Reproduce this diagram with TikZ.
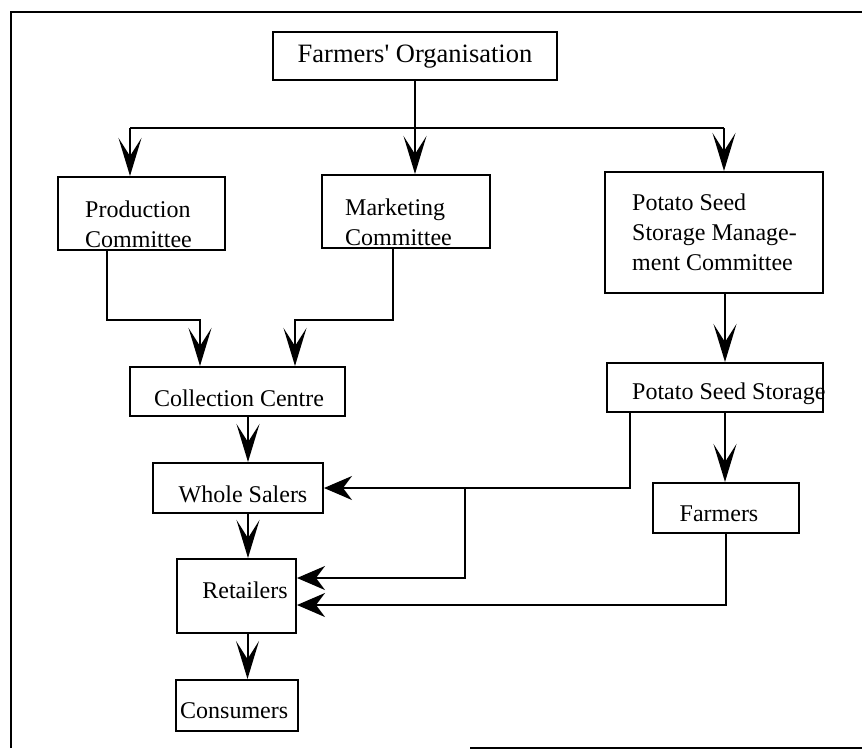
\documentclass[tikz,border=0pt]{standalone}
\usepackage{fontspec}
\setmainfont{Liberation Serif}
\usetikzlibrary{arrows.meta}
\tikzset{
  line/.style={draw=black, line width=2pt},
  box/.style={draw=black, line width=2pt, rectangle, inner sep=0pt},
  txt/.style={inner sep=0pt, font=\fontsize{24}{30}\selectfont, align=left},
  arr/.style={line, -{Stealth[length=38pt,width=23pt,inset=18pt]}},
  harr/.style={line, -{Stealth[length=28pt,width=24pt,inset=9pt]}},
  frame/.style={draw=black, line width=2.8pt}
}
\begin{document}
\begin{tikzpicture}[x=1pt,y=-1pt]
\useasboundingbox (0,0) rectangle (862,750);
% outer frame
\draw[frame] (11,748) -- (11,12) -- (862,12);
\draw[line] (470,748) -- (862,748);

% boxes
\node[box, minimum width=284pt, minimum height=48pt] (farm) at (415,56) {};
\node[box, minimum width=167pt, minimum height=73pt] (prod) at (141.5,213.5) {};
\node[box, minimum width=168pt, minimum height=73pt] (mkt) at (406,211.5) {};
\node[box, minimum width=218pt, minimum height=121pt] (psmc) at (714,232.5) {};
\node[box, minimum width=215pt, minimum height=49pt] (coll) at (237.5,391.5) {};
\node[box, minimum width=216pt, minimum height=49pt] (pss) at (715,387.5) {};
\node[box, minimum width=170pt, minimum height=50pt] (whole) at (238,488) {};
\node[box, minimum width=146pt, minimum height=50pt] (farmers) at (726,508) {};
\node[box, minimum width=119pt, minimum height=74pt] (ret) at (236.5,596) {};
\node[box, minimum width=122pt, minimum height=51pt] (cons) at (237,705.5) {};

% texts
\node[txt, font=\fontsize{26.5}{30}\selectfont] (tfarm) at (415,57) {Farmers\textquotesingle\ Organisation};
\node[txt, anchor=west] (tprod) at (85,224) {Production\\Committee};
\node[txt, anchor=west] (tmkt) at (345,222) {Marketing\\Committee};
\node[txt, anchor=west] (tpsmc) at (632,232) {Potato Seed\\Storage Manage-\\ment Committee};
\node[txt] (tcoll) at (239,398) {Collection Centre};
\node[txt, anchor=west] (tpss) at (632,394) {Potato Seed Storage};
\node[txt] (twhole) at (243,494) {Whole Salers};
\node[txt] (tfarmers) at (719,514) {Farmers};
\node[txt] (tret) at (245,590) {Retailers};
\node[txt, anchor=west] (tcons) at (180,711) {Consumers};

% connectors from Farmers' Organisation
\coordinate (bl) at (130,128);
\coordinate (br) at (724,128);
\draw[line] (bl) -- (br);
\draw[line] (farm.south) -- (farm.south |- bl);
\draw[arr] (farm.south |- bl) -- (farm.south |- mkt.north);
\draw[arr] (bl) -- (bl |- prod.north);
\draw[arr] (br) -- (br |- psmc.north);

% committees to collection centre
\coordinate (w1) at (200,320);
\coordinate (w2) at (295,320);
\draw[arr] ([xshift=-34.5pt]prod.south) |- (w1) -- (w1 |- coll.north);
\draw[arr] ([xshift=-13pt]mkt.south) |- (w2) -- (w2 |- coll.north);

% right column
\draw[arr] ([xshift=11pt]psmc.south) -- ([xshift=11pt]psmc.south |- pss.north);
\draw[arr] ([xshift=10pt]pss.south) -- ([xshift=10pt]pss.south |- farmers.north);

% left column
\draw[arr] ([xshift=10.5pt]coll.south) -- ([xshift=10.5pt]coll.south |- whole.north);
\draw[arr] ([xshift=10pt]whole.south) -- ([xshift=10pt]whole.south |- ret.north);
\draw[arr] ([xshift=11pt]ret.south) -- ([xshift=11pt]ret.south |- cons.north);

% seed storage to whole salers and retailers
\draw[harr] ([xshift=-85pt]pss.south) |- (whole.east);
\coordinate (w4) at (465,488);
\draw[harr] (w4) |- ([yshift=18pt]ret.east);
\draw[harr] (farmers.south) |- ([yshift=-9pt]ret.east);
\end{tikzpicture}
\end{document}
